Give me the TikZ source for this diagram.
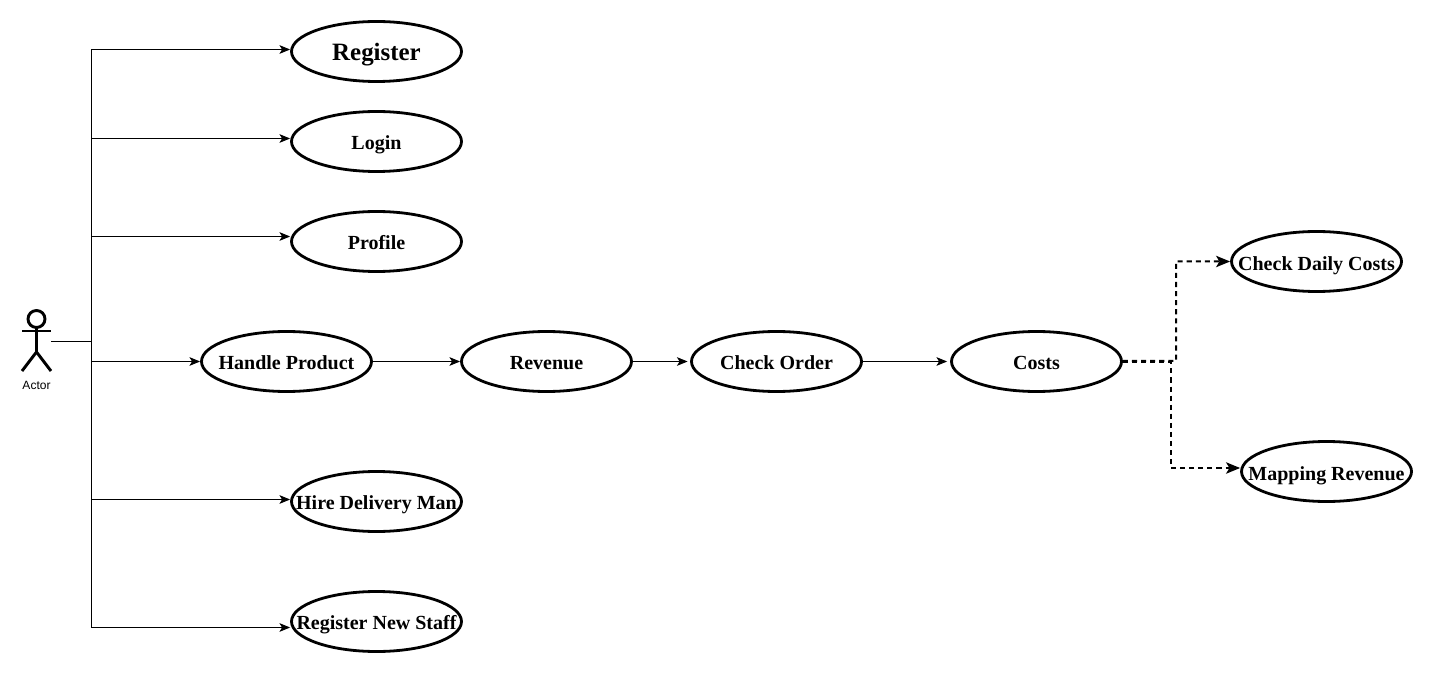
\documentclass[tikz,border=0pt]{standalone}
\usepackage{fontspec}
\setmainfont{Liberation Serif}
\newfontfamily\actorfont{Liberation Sans}
\usetikzlibrary{arrows.meta,calc,shapes.geometric}
\newcommand{\uctext}[1]{\makebox[0pt]{\smash{\raisebox{-6.3pt}{#1}}}}
\newcommand{\uctextlow}[1]{\makebox[0pt]{\smash{\raisebox{-7.1pt}{#1}}}}
\newcommand{\uctextbig}[1]{\makebox[0pt]{\smash{\raisebox{-7.1pt}{#1}}}}
\tikzset{
  usecase/.style={draw=black,line width=2.1pt,ellipse,fill=white,minimum width=127.5pt,minimum height=45pt,inner sep=0pt,font=\fontsize{15}{17}\selectfont\bfseries},
  conn/.style={draw=black,line width=0.75pt,-{Stealth[length=8pt,width=6.5pt,inset=2pt]}},
  plainconn/.style={draw=black,line width=0.75pt},
  dashconn/.style={draw=black,line width=1.5pt,dash pattern=on 3.8pt off 3pt,-{Stealth[length=10.5pt,width=8.5pt,inset=2.5pt]}},
  stick/.style={draw=black,line width=2.2pt}
}
\begin{document}
\begin{tikzpicture}[x=0.75pt,y=-0.75pt]
\useasboundingbox[fill=white] (0,0) rectangle (1433,673);
% use cases
\node[usecase,font=\fontsize{18.7}{20}\selectfont\bfseries] (reg) at (376.5,51.5) {\uctextbig{Register}};
\node[usecase] (login) at (376.5,141.5) {\uctext{Login}};
\node[usecase] (profile) at (376.5,241.5) {\uctext{Profile}};
\node[usecase] (handle) at (286.5,361.5) {\uctext{Handle Product}};
\node[usecase] (revenue) at (546.5,361.5) {\uctext{Revenue}};
\node[usecase] (check) at (776.5,361.5) {\uctext{Check Order}};
\node[usecase] (costs) at (1036.5,361.5) {\uctext{Costs}};
\node[usecase] (daily) at (1316.5,261.5) {\uctextlow{Check Daily Costs}};
\node[usecase] (mapping) at (1326.5,471.5) {\uctextlow{Mapping Revenue}};
\node[usecase] (hire) at (376.5,501.5) {\uctext{Hire Delivery Man}};
\node[usecase] (staff) at (376.5,621.5) {\uctext{Register New Staff}};
% actor
\draw[stick] (36.5,319) circle (8.5);
\draw[stick] (36.5,327.5) -- (36.5,352);
\draw[stick] (22,331) -- (51,331);
\draw[stick] (22,371) -- (36.5,352) -- (51,371);
\node[inner sep=0pt,font=\actorfont\fontsize{9}{11}\selectfont] (actor) at (36.5,385) {Actor};
% bus
\coordinate (hand) at (51,341);
\coordinate (hub) at (91,341);
\coordinate (b1) at (91,49.5);
\coordinate (b2) at (91,138.5);
\coordinate (b3) at (91,236.5);
\coordinate (b4) at (91,361.5);
\coordinate (b5) at (91,499.5);
\coordinate (b6) at (91,627.5);
\draw[plainconn] (hand) -- (hub);
\draw[plainconn] (b1) -- (b6);
\draw[conn] (b1) -- (b1 -| reg.west);
\draw[conn] (b2) -- (b2 -| login.west);
\draw[conn] (b3) -- (b3 -| profile.west);
\draw[conn] (b4) -- (handle.west);
\draw[conn] (b5) -- (b5 -| hire.west);
\draw[conn] (b6) -- (b6 -| staff.west);
% chain
\draw[conn] (handle.east) -- (revenue.west);
\coordinate (checkin) at ($(check.west)+(-2.5,0)$);
\draw[conn] (revenue.east) -- (checkin);
\coordinate (checkend) at ($(costs.west)+(-3,0)$);
\draw[conn] (check.east) -- (checkend);
% dashed
\coordinate (up0) at ($(costs.east)+(0,-0.6)$);
\coordinate (up) at (1176,360.9);
\coordinate (upt) at (1176,261.5);
\coordinate (dn0) at ($(costs.east)+(0,0.6)$);
\coordinate (dn) at (1171,362.1);
\coordinate (dnt) at (1171,468);
\draw[dashconn] (up0) -- (up) -- (upt) -- (upt -| daily.west);
\draw[dashconn] (dn0) -- (dn) -- (dnt) -- (dnt -| mapping.west);
\end{tikzpicture}
\end{document}
